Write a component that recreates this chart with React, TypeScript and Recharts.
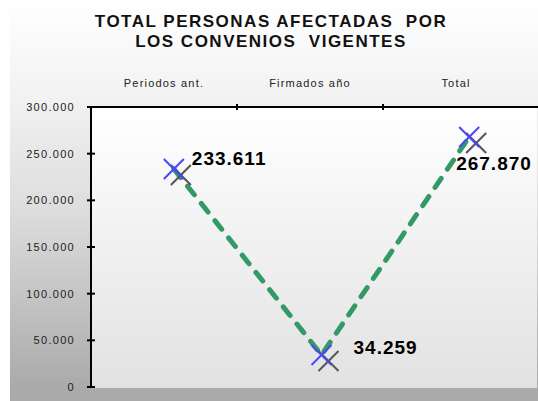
import React from 'react';
import { LineChart, Line, XAxis, YAxis, LabelList } from 'recharts';

const categories = ['Periodos ant.', 'Firmados año', 'Total'];
const personas = [233611, 34259, 267870];
const yTicks = [0, 50000, 100000, 150000, 200000, 250000, 300000];

const data = categories.map((name, i) => ({ name, personas: personas[i] }));

const W = 538;
const H = 401;
const PLOT_LEFT = 91;
const PLOT_RIGHT = 529;
const BAND = (PLOT_RIGHT - PLOT_LEFT) / categories.length;

// donde cae cada etiqueta de valor respecto a su punto
const labelOffsets = [
  { dx: 18, dy: -4 },
  { dx: 32, dy: -1 },
  { dx: -13, dy: 33 },
];

const fmt = (v: number) => v.toLocaleString('de-DE');

const YTick = ({ x, y, payload }: any) => (
  <g>
    <line x1={x - 4} x2={x + 4} y1={y} y2={y} stroke="#000" strokeWidth={2} />
    <text x={x - 16} y={y} dy={4} textAnchor="end" fontSize={11} letterSpacing={1.3} fill="#222">
      {fmt(payload.value)}
    </text>
  </g>
);

const XTick = ({ x, y, payload, index }: any) => (
  <g>
    <text x={x} y={y - 20} textAnchor="middle" fontSize={11} letterSpacing={1.2} fill="#222">
      {payload.value}
    </text>
    {index < categories.length - 1 && (
      <line x1={x + BAND / 2} x2={x + BAND / 2} y1={y - 3} y2={y + 3} stroke="#000" strokeWidth={2} />
    )}
  </g>
);

const Marker = ({ cx, cy, index }: any) => {
  const r = 10;
  return (
    <g key={`m-${index}`}>
      <line x1={cx - r + 7} y1={cy - r + 6} x2={cx + r + 7} y2={cy + r + 6} stroke="#555" strokeWidth={2} />
      <line x1={cx + r + 7} y1={cy - r + 6} x2={cx - r + 7} y2={cy + r + 6} stroke="#555" strokeWidth={2} />
      <line x1={cx - r} y1={cy - r} x2={cx + r} y2={cy + r} stroke="#4848f8" strokeWidth={2} />
      <line x1={cx + r} y1={cy - r} x2={cx - r} y2={cy + r} stroke="#4848f8" strokeWidth={2} />
    </g>
  );
};

const ValueLabel = ({ x, y, value, index }: any) => {
  const o = labelOffsets[index] || { dx: 10, dy: 0 };
  return (
    <text x={x + o.dx} y={y + o.dy} fontSize={19} fontWeight="bold" letterSpacing={1} fill="#000">
      {fmt(value)}
    </text>
  );
};

export default function App() {
  return (
    <div
      style={{
        position: 'absolute',
        left: 0,
        top: 0,
        width: W,
        height: H,
        background: '#fff',
        fontFamily: '"Liberation Sans", Arial, sans-serif',
        overflow: 'hidden',
      }}
    >
      {/* fondo del gráfico */}
      <div
        style={{
          position: 'absolute',
          left: 10,
          top: 0,
          width: W - 10,
          height: 388,
          background: 'linear-gradient(to bottom, #ffffff 0%, #f2f2f2 25%, #dcdcdc 55%, #aaaaaa 100%)',
        }}
      />
      <div style={{ position: 'absolute', left: 10, top: 388, width: W - 10, height: H - 388, background: '#aaaaaa' }} />
      {/* área de trazado */}
      <div
        style={{
          position: 'absolute',
          left: PLOT_LEFT,
          top: 107,
          width: 537 - PLOT_LEFT,
          height: 388 - 107,
          background: 'linear-gradient(to bottom, #ffffff 0%, #e2e2e2 100%)',
        }}
      />
      <div style={{ position: 'absolute', left: PLOT_RIGHT, top: 106, width: W - PLOT_RIGHT, height: 2, background: '#000' }} />

      <div
        style={{
          position: 'absolute',
          left: 0,
          top: 12,
          width: 542,
          textAlign: 'center',
          fontWeight: 'bold',
          fontSize: 17,
          lineHeight: '20px',
          letterSpacing: 1.5,
          whiteSpace: 'pre',
          color: '#111',
        }}
      >
        {'TOTAL PERSONAS AFECTADAS  POR\nLOS CONVENIOS  VIGENTES'}
      </div>

      <div style={{ position: 'absolute', left: 0, top: 0 }}>
        <LineChart width={W} height={H} data={data} margin={{ top: 77, right: W - PLOT_RIGHT, bottom: 14, left: 10 }}>
          <XAxis
            xAxisId="cat"
            dataKey="name"
            orientation="top"
            scale="band"
            height={30}
            tickSize={0}
            tickMargin={0}
            tickLine={false}
            axisLine={{ stroke: '#000', strokeWidth: 2 }}
            tick={<XTick />}
          />
          <XAxis xAxisId="pts" dataKey="name" scale="band" hide padding={{ left: 9, right: -14 }} />
          <YAxis
            width={81}
            domain={[0, 300000]}
            ticks={yTicks}
            interval={0}
            tickSize={0}
            tickMargin={0}
            tickLine={false}
            axisLine={{ stroke: '#000', strokeWidth: 2 }}
            tick={<YTick />}
          />
          <Line
            xAxisId="pts"
            dataKey="personas"
            stroke="#339966"
            strokeWidth={5}
            strokeDasharray="11 11"
            strokeLinecap="round"
            dot={(p: any) => <Marker key={`d-${p.index}`} {...p} />}
            activeDot={false}
            isAnimationActive={false}
          >
            <LabelList dataKey="personas" content={<ValueLabel />} />
          </Line>
        </LineChart>
      </div>
    </div>
  );
}
